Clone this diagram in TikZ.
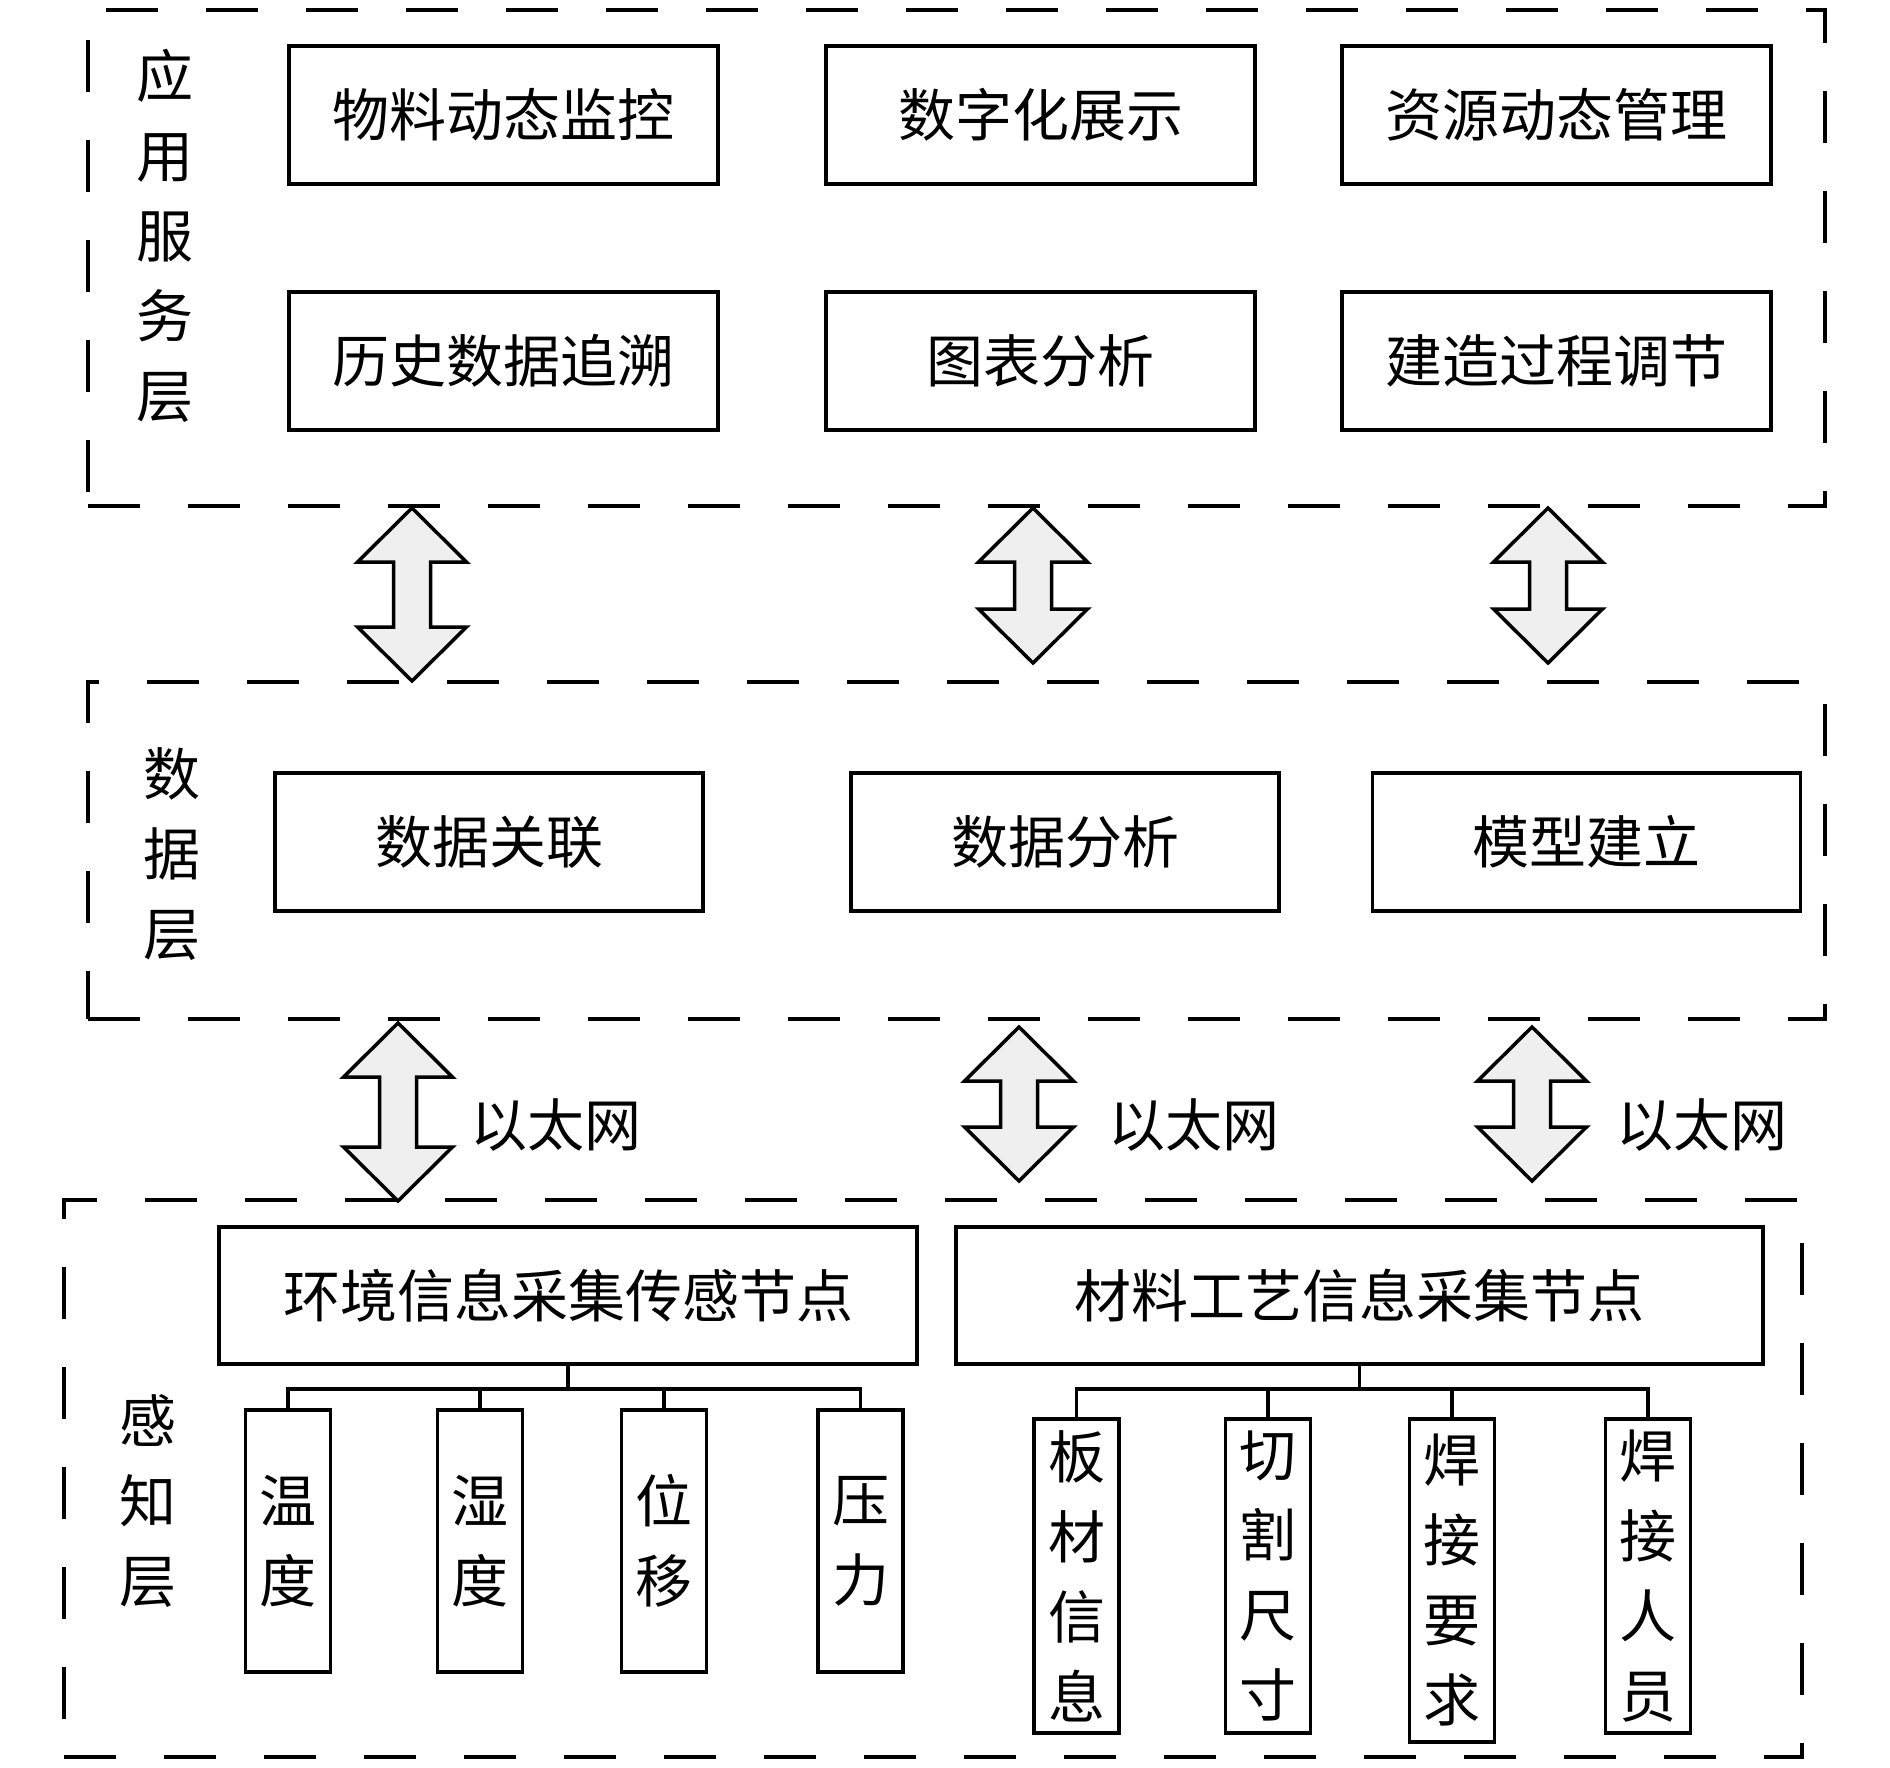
\documentclass[tikz,border=0pt]{standalone}
\usepackage{fontspec}
\newfontfamily\cjkfont{Noto Sans CJK SC}
\usetikzlibrary{calc}

\definecolor{arrowgray}{RGB}{239, 239, 239}

\tikzset{
  layerframe/.style={draw, line width=3.5pt, dash pattern=on 52pt off 48pt, inner sep=0pt, outer sep=0pt},
  funcbox/.style={draw, line width=3.5pt, minimum width=429pt, minimum height=138pt, inner sep=0pt, outer sep=0pt, font=\cjkfont\fontsize{57}{80}\selectfont},
  itembox/.style={draw, line width=3.5pt, minimum width=85pt, inner sep=0pt, outer sep=0pt, align=center, font=\cjkfont\fontsize{57}{80}\selectfont},
  layertag/.style={align=center, inner sep=0pt, font=\cjkfont\fontsize{57}{80}\selectfont},
  netlabel/.style={anchor=west, inner sep=0pt, font=\cjkfont\fontsize{57}{80}\selectfont},
  arrowbody/.style={draw, line width=3.5pt, fill=arrowgray, line join=miter},
  tree/.style={line width=3.2pt}
}

% hollow two-headed arrow between two points on one vertical
\newcommand{\dualarrow}[2]{%
  \path[arrowbody] let \p1=(#1), \p2=(#2) in
    (\x1,\y1) -- (\x1+54.5pt,\y1-54pt) -- (\x1+18.5pt,\y1-54pt)
    -- (\x1+18.5pt,\y2+54pt) -- (\x1+54.5pt,\y2+54pt) -- (\x1,\y2)
    -- (\x1-54.5pt,\y2+54pt) -- (\x1-18.5pt,\y2+54pt)
    -- (\x1-18.5pt,\y1-54pt) -- (\x1-54.5pt,\y1-54pt) -- cycle;}

\begin{document}
\begin{tikzpicture}[x=1pt, y=-1pt]
  \useasboundingbox (0,0) rectangle (1890,1767);

  % layer frames
  \node[layerframe, minimum width=1737pt, minimum height=496pt] (app) at (956.5,258) {};
  \node[layerframe, minimum width=1737pt, minimum height=337pt] (data) at (956.5,850.5) {};
  \node[layerframe, minimum width=1738pt, minimum height=557pt] (sense) at (933,1478.5) {};

  \node[layertag] (apptag) at (165,236) {应\\用\\服\\务\\层};
  \node[layertag] (datatag) at (172,854) {数\\据\\层};
  \node[layertag] (sensetag) at (148,1501) {感\\知\\层};

  % application services
  \node[funcbox] (material) at (503.5,115) {物料动态监控};
  \node[funcbox] (display) at (1040.5,115) {数字化展示};
  \node[funcbox] (resource) at (1556.5,115) {资源动态管理};
  \node[funcbox] (history) at (503.5,361) {历史数据追溯};
  \node[funcbox] (chart) at (1040.5,361) {图表分析};
  \node[funcbox] (process) at (1556.5,361) {建造过程调节};

  % data layer
  \node[funcbox, minimum width=428pt] (assoc) at (489,842) {数据关联};
  \node[funcbox, minimum width=428pt] (analysis) at (1065,842) {数据分析};
  \node[funcbox, minimum width=428pt] (model) at (1586.5,842) {模型建立};

  % perception layer
  \node[funcbox, minimum width=698pt, minimum height=137pt] (env) at (568,1295.5) {环境信息采集传感节点};
  \node[funcbox, minimum width=807pt, minimum height=137pt] (craft) at (1359.5,1295.5) {材料工艺信息采集节点};

  \node[itembox, minimum height=262pt] (temp) at (288,1541) {温\\度};
  \node[itembox, minimum height=262pt] (humid) at (480,1541) {湿\\度};
  \node[itembox, minimum height=262pt] (disp) at (664,1541) {位\\移};
  \node[itembox, minimum height=262pt] (press) at (860.5,1541) {压\\力};

  \node[itembox, minimum height=314pt] (plate) at (1076.5,1576) {板\\材\\信\\息};
  \node[itembox, minimum height=314pt] (cut) at (1268,1576) {切\\割\\尺\\寸};
  \node[itembox, minimum height=323pt] (weldreq) at (1452,1580.5) {焊\\接\\要\\求};
  \node[itembox, minimum height=314pt] (welder) at (1648,1576) {焊\\接\\人\\员};

  \foreach \c in {temp, humid, disp, press}
    \draw[tree] (env.south) -- ++(0,25) -| (\c.north);
  \foreach \c in {plate, cut, weldreq, welder}
    \draw[tree] (craft.south) -- ++(0,25) -| (\c.north);

  % links between layers
  \coordinate (up1t) at (412,508);   \coordinate (up1b) at (412,681);
  \coordinate (up2t) at (1033,508);  \coordinate (up2b) at (1033,663);
  \coordinate (up3t) at (1548,508);  \coordinate (up3b) at (1548,663);
  \coordinate (lo1t) at (398,1023);  \coordinate (lo1b) at (398,1201);
  \coordinate (lo2t) at (1019,1027); \coordinate (lo2b) at (1019,1181);
  \coordinate (lo3t) at (1532,1027); \coordinate (lo3b) at (1532,1181);

  \dualarrow{up1t}{up1b}
  \dualarrow{up2t}{up2b}
  \dualarrow{up3t}{up3b}
  \dualarrow{lo1t}{lo1b}
  \dualarrow{lo2t}{lo2b}
  \dualarrow{lo3t}{lo3b}

  \node[netlabel] (eth1) at (470,1125) {以太网};
  \node[netlabel] (eth2) at (1108,1125) {以太网};
  \node[netlabel] (eth3) at (1616,1125) {以太网};
\end{tikzpicture}
\end{document}
